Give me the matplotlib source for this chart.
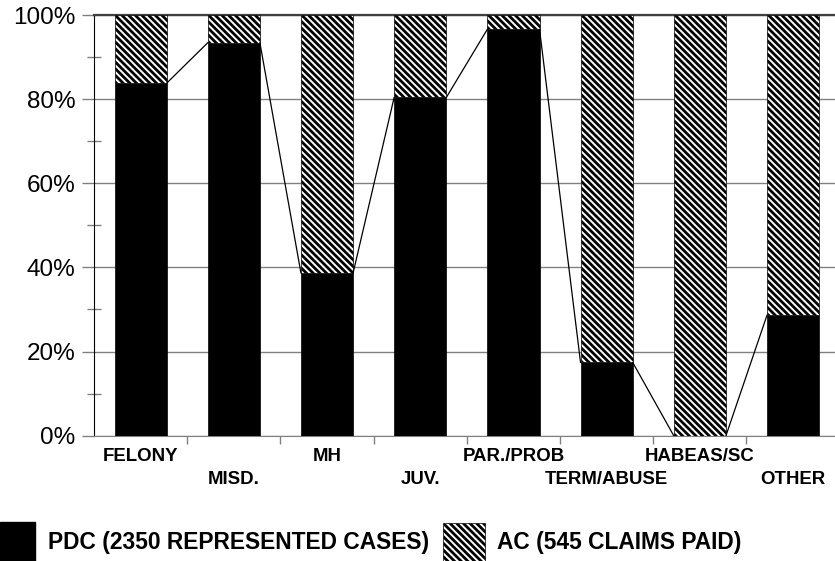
import numpy as np
import matplotlib
matplotlib.use("Agg")
import matplotlib.pyplot as plt
from matplotlib.patches import Rectangle
from matplotlib.ticker import MultipleLocator, FuncFormatter
import matplotlib.transforms as mtransforms

plt.rcParams["hatch.linewidth"] = 2.0
plt.rcParams["hatch.color"] = "black"
plt.rcParams["font.family"] = ["Liberation Sans", "DejaVu Sans"]

categories = ["FELONY", "MISD.", "MH", "JUV.", "PAR./PROB", "TERM/ABUSE", "HABEAS/SC", "OTHER"]
pdc = [83.8, 93.4, 38.7, 80.4, 96.6, 17.4, 0.0, 28.6]
ac = [100 - v for v in pdc]

HATCH = "\\" * 5

fig = plt.figure(figsize=(8.35, 5.61), dpi=100)
ax = fig.add_axes([94 / 835, (561 - 435.7) / 561, 1 - 94 / 835, 420.7 / 561])

x = np.arange(len(categories)) + 0.5
w = 0.56
ax.bar(x, pdc, w, color="black", edgecolor="black", linewidth=0.5, zorder=3)
ax.bar(x, ac, w, bottom=pdc, color="white", edgecolor="black", hatch=HATCH,
       linewidth=0.5, zorder=3)

# series lines between tops of the black segments
for i in range(len(pdc) - 1):
    ax.plot([x[i] + w / 2, x[i + 1] - w / 2], [pdc[i], pdc[i + 1]],
            color="black", lw=0.9, zorder=4)

ax.set_xlim(0, 7.95)
ax.set_ylim(0, 100)

ax.yaxis.set_major_locator(MultipleLocator(20))
ax.yaxis.set_minor_locator(MultipleLocator(10))
ax.yaxis.set_major_formatter(FuncFormatter(lambda v, p: f"{v:.0f}%"))
ax.tick_params(axis="y", which="major", direction="out", length=8.5, width=1,
               color="#808080", labelsize=17.5, pad=5)
ax.tick_params(axis="y", which="minor", direction="inout", length=10, width=1,
               color="#808080")
ax.grid(axis="y", which="major", color="#808080", lw=1, zorder=0)

ax.set_xticks(np.arange(1, len(categories)))
ax.set_xticklabels([])
ax.tick_params(axis="x", which="major", direction="out", length=6, width=1,
               color="#808080")

# category labels on two staggered rows
trans = mtransforms.blended_transform_factory(ax.transData, ax.transAxes)
for i, c in enumerate(categories):
    yy = -0.0601 if i % 2 == 0 else -0.1141
    ax.text(x[i], yy, c, transform=trans, ha="center", va="baseline",
            fontsize=13.4, fontweight="bold")

ax.spines["left"].set_color("black")
ax.spines["bottom"].set_color("#808080")
ax.spines["top"].set_color("#404040")
ax.spines["top"].set_linewidth(1.6)
ax.spines["right"].set_visible(False)

# legend
fig.patches.append(Rectangle((0, 0), 35 / 835, 39 / 561, transform=fig.transFigure,
                             facecolor="black", edgecolor="black"))
fig.text(48 / 835, 12 / 561, "PDC (2350 REPRESENTED CASES)", fontsize=16.4,
         fontweight="bold", va="baseline", ha="left")
fig.patches.append(Rectangle((443 / 835, 0), 42 / 835, 38 / 561, transform=fig.transFigure,
                             facecolor="white", edgecolor="black", hatch=HATCH,
                             linewidth=0.5))
fig.text(497 / 835, 12 / 561, "AC (545 CLAIMS PAID)", fontsize=16.4,
         fontweight="bold", va="baseline", ha="left")

fig.savefig("out.png", dpi=100)
